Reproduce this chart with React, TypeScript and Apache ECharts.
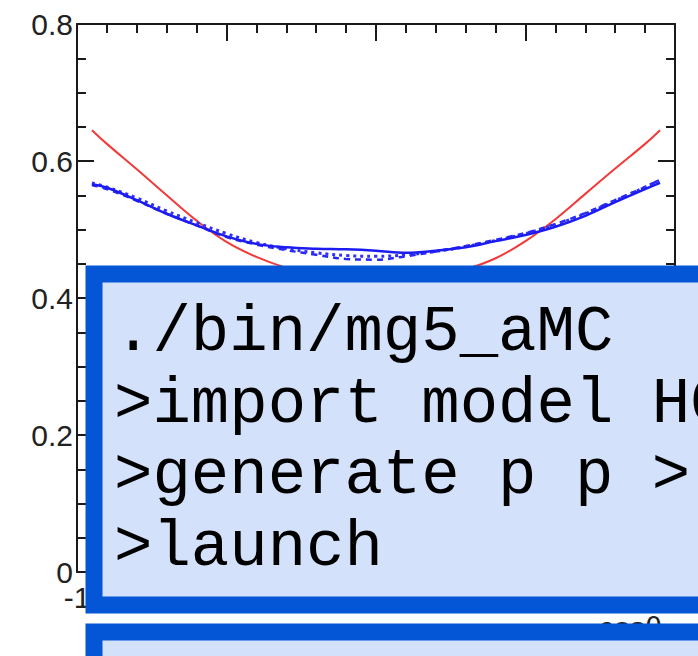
import React, { useEffect, useRef } from "react";
import * as echarts from "echarts";

// cos(theta) sample positions
const xs = [-0.95, -0.9, -0.8, -0.7, -0.6, -0.5, -0.4, -0.3, -0.2, -0.1, 0, 0.1, 0.2, 0.3, 0.4, 0.5, 0.6, 0.7, 0.8, 0.9, 0.95];

const redValues = [0.645, 0.625, 0.588, 0.55, 0.513, 0.482, 0.46, 0.444, 0.433, 0.426, 0.424, 0.426, 0.433, 0.442, 0.458, 0.483, 0.515, 0.552, 0.589, 0.625, 0.645];
const blueSolid = [0.566, 0.561, 0.543, 0.523, 0.506, 0.49, 0.479, 0.474, 0.472, 0.471, 0.469, 0.466, 0.469, 0.474, 0.483, 0.492, 0.504, 0.52, 0.54, 0.559, 0.568];
const blueDotted = [0.568, 0.562, 0.546, 0.527, 0.51, 0.494, 0.481, 0.472, 0.466, 0.462, 0.461, 0.463, 0.468, 0.475, 0.484, 0.494, 0.507, 0.523, 0.542, 0.562, 0.572];
const blueDashed = [0.565, 0.559, 0.542, 0.523, 0.506, 0.489, 0.478, 0.47, 0.463, 0.457, 0.456, 0.461, 0.468, 0.476, 0.485, 0.495, 0.508, 0.524, 0.543, 0.562, 0.573];

const yTicks = ["0", "0.2", "0.4", "0.6", "0.8"];
const xVisibleTick = "-1";
const xTitle = "cosθ";
const commandLines = ["./bin/mg5_aMC", ">import model HC", ">generate p p >", ">launch"];

const pairs = (ys: number[]) => xs.map((x, i) => [x, ys[i]]);

export default function App() {
  const ref = useRef<HTMLDivElement>(null);
  useEffect(() => {
    if (!ref.current) return;
    const chart = echarts.init(ref.current, undefined, { renderer: "svg" });
    const axisColor = "#1a1a1a";
    const labelFont = { fontFamily: "Liberation Sans", fontSize: 30, color: "#222" };
    const tickCommon = {
      axisLine: { show: true, onZero: false, lineStyle: { color: axisColor, width: 2 } },
      axisTick: { show: true, inside: true, length: 17, lineStyle: { color: axisColor, width: 2 } },
      splitLine: { show: false },
      minorSplitLine: { show: false },
    };
    const boxStyle = { fill: "#D3E1FA", stroke: "#0556D6", lineWidth: 17 };
    const baselines = [350, 422, 493, 565];
    chart.setOption({
      animation: false,
      backgroundColor: "#ffffff",
      grid: { left: 77, right: 23, top: 24, bottom: 84 },
      xAxis: [
        {
          type: "value", min: -1, max: 1, interval: 0.5, position: "bottom",
          ...tickCommon,
          minorTick: { show: true, splitNumber: 5, length: 9, lineStyle: { color: axisColor, width: 2 } },
          axisLabel: { ...labelFont, margin: 10, formatter: (v: number) => (v === -1 ? xVisibleTick : "") },
        },
        {
          type: "value", min: -1, max: 1, interval: 0.5, position: "top",
          ...tickCommon,
          minorTick: { show: true, splitNumber: 5, length: 9, lineStyle: { color: axisColor, width: 2 } },
          axisLabel: { show: false },
        },
      ],
      yAxis: [
        {
          type: "value", min: 0, max: 0.8, interval: 0.2, position: "left",
          ...tickCommon,
          minorTick: { show: true, splitNumber: 4, length: 9, lineStyle: { color: axisColor, width: 2 } },
          axisLabel: { ...labelFont, margin: 4, formatter: (v: number) => yTicks[Math.round(v / 0.2)] },
        },
        {
          type: "value", min: 0, max: 0.8, interval: 0.2, position: "right",
          ...tickCommon,
          minorTick: { show: true, splitNumber: 4, length: 9, lineStyle: { color: axisColor, width: 2 } },
          axisLabel: { show: false },
        },
      ],
      series: [
        { type: "line", data: pairs(redValues), smooth: 0.4, symbol: "none", lineStyle: { color: "#F23A3A", width: 2 } },
        { type: "line", data: pairs(blueDashed), smooth: 0.4, symbol: "none", lineStyle: { color: "#2626F5", width: 2.5, type: [6, 5] } },
        { type: "line", data: pairs(blueDotted), smooth: 0.4, symbol: "none", lineStyle: { color: "#3030F5", width: 3, type: [3, 4] } },
        { type: "line", data: pairs(blueSolid), smooth: 0.4, symbol: "none", lineStyle: { color: "#1C1CF0", width: 2.5 } },
      ],
      graphic: [
        {
          type: "text", z: 90, x: 662, y: 612,
          style: { text: xTitle, fontFamily: "Liberation Sans", fontSize: 30, fill: "#222", align: "right", verticalAlign: "top" },
        },
        { type: "rect", z: 100, shape: { x: 94, y: 274, width: 720, height: 331 }, style: boxStyle },
        { type: "rect", z: 100, shape: { x: 94, y: 632, width: 720, height: 100 }, style: boxStyle },
        ...commandLines.map((t, i) => ({
          type: "text", z: 110, x: 114, y: baselines[i] - 17,
          style: { text: t, fontFamily: "Liberation Mono", fontSize: 64, fill: "#000", align: "left", verticalAlign: "middle" },
        })),
      ],
    });
    return () => chart.dispose();
  }, []);
  return <div ref={ref} style={{ position: "fixed", left: 0, top: 0, width: 698, height: 656 }} />;
}
